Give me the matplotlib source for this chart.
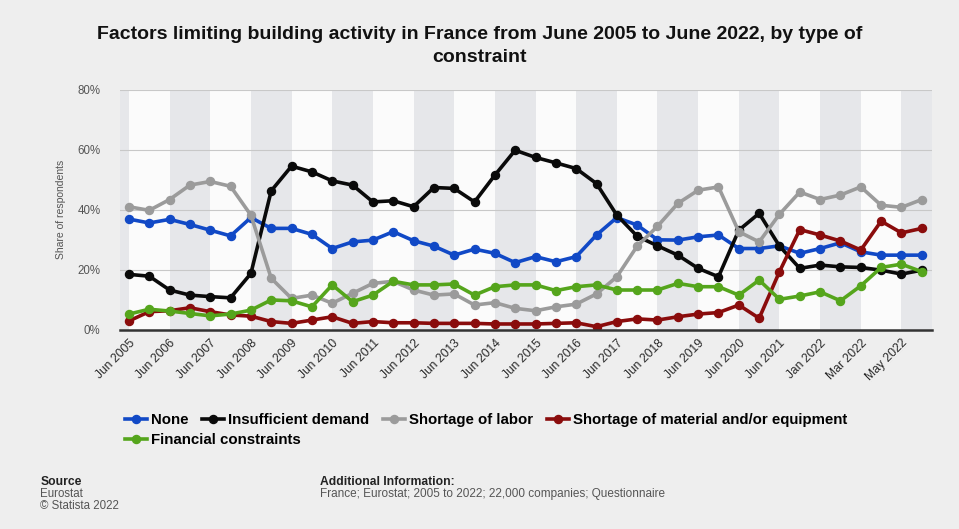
import matplotlib.pyplot as plt
import numpy as np

plt.rcParams['font.family'] = ['Liberation Sans', 'DejaVu Sans']

# survey waves: half-yearly until 2021, then monthly in 2022
periods = []
for yr in range(2005, 2022):
    periods.append(f"Jun {yr}")
    periods.append(f"Dec {yr}")
periods = periods[:33] + ["Dec 2021", "Jan 2022", "Feb 2022", "Mar 2022",
                          "Apr 2022", "May 2022", "Jun 2022"]

none = [36.9, 35.6, 36.8, 35.1, 33.2, 31.3, 37.4, 33.8, 33.8, 31.8,
        27.1, 29.3, 29.9, 32.7, 29.7, 27.9, 24.9, 26.9, 25.5, 22.4,
        24.4, 22.7, 24.4, 31.6, 37.4, 34.9, 30.0, 29.9, 31.0, 31.6,
        27.1, 27.1, 28.0, 25.5, 27.1, 29.0, 26.0, 24.9, 24.9, 24.9]
demand = [18.5, 17.9, 13.3, 11.6, 11.1, 10.7, 18.8, 46.3, 54.5, 52.6,
          49.6, 48.2, 42.6, 43.0, 41.0, 47.4, 47.1, 42.6, 51.5, 59.8,
          57.4, 55.6, 53.7, 48.7, 38.2, 31.2, 28.0, 24.9, 20.5, 17.7,
          33.2, 38.8, 27.9, 20.5, 21.6, 21.0, 20.8, 19.9, 18.6, 19.9]
labor = [41.0, 39.8, 43.4, 48.2, 49.4, 47.8, 38.2, 17.2, 10.5, 11.6,
         8.9, 12.2, 15.5, 16.2, 13.3, 11.6, 12.0, 8.3, 9.1, 7.2,
         6.4, 7.7, 8.6, 12.0, 17.7, 27.9, 34.5, 42.1, 46.5, 47.6,
         32.7, 29.3, 38.5, 45.9, 43.4, 44.9, 47.6, 41.5, 40.8, 43.4]
material = [3.0, 6.1, 6.4, 7.4, 6.1, 5.0, 4.6, 2.8, 2.2, 3.3,
            4.4, 2.2, 2.8, 2.4, 2.4, 2.2, 2.2, 2.2, 2.0, 2.0,
            2.0, 2.2, 2.4, 1.1, 2.8, 3.7, 3.3, 4.4, 5.3, 5.8,
            8.3, 3.9, 19.4, 33.4, 31.6, 29.6, 26.6, 36.2, 32.3, 33.8]
financial = [5.3, 6.9, 6.3, 5.5, 4.7, 5.3, 6.6, 10.0, 9.7, 7.7,
             15.0, 9.4, 11.6, 16.2, 15.0, 15.0, 15.3, 11.6, 14.4, 15.0,
             15.0, 13.1, 14.4, 15.0, 13.3, 13.3, 13.3, 15.5, 14.4, 14.4,
             11.6, 16.6, 10.2, 11.3, 12.7, 9.7, 14.7, 20.8, 21.9, 19.4]

series = [
    ("None", none, "#1149c6"),
    ("Insufficient demand", demand, "#0a0a0a"),
    ("Shortage of labor", labor, "#9b9b9b"),
    ("Shortage of material and/or equipment", material, "#8a0c0c"),
    ("Financial constraints", financial, "#55a51c"),
]

x = np.arange(len(periods))

fig = plt.figure(figsize=(9.59, 5.29), dpi=100, facecolor="#eeeeee")
ax = fig.add_axes([0.1251, 0.3762, 0.8467, 0.4546])
ax.set_facecolor("#e6e7ea")

# alternating white column bands, two waves wide
for start in range(0, len(periods) - 1, 4):
    ax.axvspan(start, start + 2, color="#fbfbfb", zorder=0, lw=0)

for yv in [20, 40, 60, 80]:
    ax.axhline(yv, color="#c8c8c8", lw=0.8, zorder=1)

handles = {}
for name, vals, col in series:
    h, = ax.plot(x, vals, color=col, lw=2.6, marker="o", ms=5.8,
                 zorder=3, label=name)
    handles[name] = h

ax.set_xlim(-0.44, 39.5)
ax.set_ylim(0, 80)
ax.set_yticks([0, 20, 40, 60, 80])
ax.set_yticklabels(["0%", "20%", "40%", "60%", "80%"])
ax.tick_params(axis="y", length=0, pad=14, labelsize=8.3, labelcolor="#555555")

shown = list(range(0, len(periods), 2))
ax.set_xticks(shown)
ax.set_xticklabels([periods[i] for i in shown], rotation=45, ha="right",
                   rotation_mode="anchor")
ax.tick_params(axis="x", length=0, pad=5, labelsize=8.7, labelcolor="#2a2a2a")

for side in ["top", "right", "left"]:
    ax.spines[side].set_visible(False)
ax.spines["bottom"].set_color("#333333")
ax.spines["bottom"].set_linewidth(1.8)
ax.spines["bottom"].set_zorder(4)

ax.set_ylabel("Share of respondents", fontsize=7.5, color="#555555", labelpad=8)

fig.suptitle("Factors limiting building activity in France from June 2005 to June 2022, by type of\nconstraint",
             x=0.5, y=0.950, fontsize=14, fontweight="bold", linespacing=1.42,
             va="top", color="#111111")

# legend: four entries on the first row, the last one below
leg_kw = dict(frameon=False, handlelength=1.45, handletextpad=0.3,
              columnspacing=0.9, borderaxespad=0,
              prop={"weight": "bold", "size": 10.8})
first = [handles[s[0]] for s in series[:4]]
leg1 = fig.legend(first, [s[0] for s in series[:4]], ncol=4, loc="upper left",
                  bbox_to_anchor=(0.124, 0.231), **leg_kw)
leg2 = fig.legend([handles["Financial constraints"]], ["Financial constraints"],
                  loc="upper left", bbox_to_anchor=(0.124, 0.193), **leg_kw)

fig.text(0.042, 0.083, "Source", fontsize=8.7, fontweight="bold", color="#222222")
fig.text(0.042, 0.0605, "Eurostat", fontsize=8.3, color="#555555")
fig.text(0.042, 0.038, "\u00a9 Statista 2022", fontsize=8.3, color="#555555")
fig.text(0.334, 0.083, "Additional Information:", fontsize=8.7, fontweight="bold",
         color="#222222")
fig.text(0.334, 0.0605, "France; Eurostat; 2005 to 2022; 22,000 companies; Questionnaire",
         fontsize=8.5, color="#555555")

fig.savefig("out.png", dpi=100, facecolor=fig.get_facecolor())
